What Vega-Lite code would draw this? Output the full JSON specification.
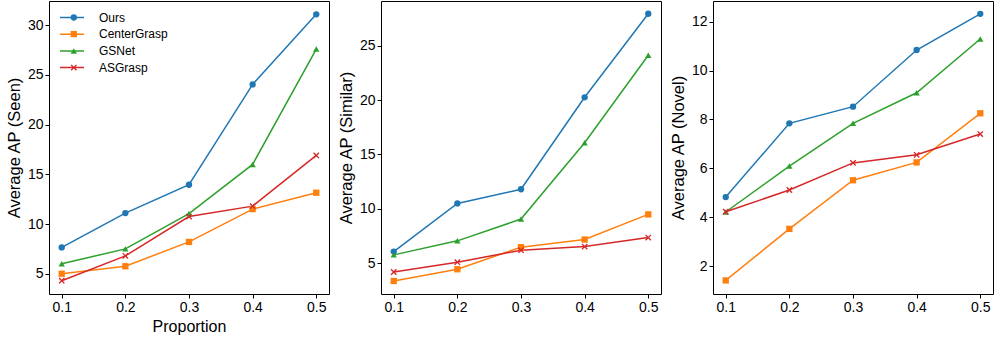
{
  "$schema": "https://vega.github.io/schema/vega-lite/v6.json",
  "autosize": {"type": "pad"},
  "padding": {"left": 5, "top": 0, "right": 4, "bottom": 0},
  "background": "white",
  "datasets": {
    "ap": [
      {"panel": "Seen", "p": 0.1, "method": "Ours", "value": 7.65},
      {"panel": "Seen", "p": 0.2, "method": "Ours", "value": 11.1},
      {"panel": "Seen", "p": 0.3, "method": "Ours", "value": 13.95},
      {"panel": "Seen", "p": 0.4, "method": "Ours", "value": 24.05},
      {"panel": "Seen", "p": 0.5, "method": "Ours", "value": 31.1},
      {"panel": "Seen", "p": 0.1, "method": "CenterGrasp", "value": 5.0},
      {"panel": "Seen", "p": 0.2, "method": "CenterGrasp", "value": 5.75},
      {"panel": "Seen", "p": 0.3, "method": "CenterGrasp", "value": 8.2},
      {"panel": "Seen", "p": 0.4, "method": "CenterGrasp", "value": 11.5},
      {"panel": "Seen", "p": 0.5, "method": "CenterGrasp", "value": 13.15},
      {"panel": "Seen", "p": 0.1, "method": "GSNet", "value": 6.0},
      {"panel": "Seen", "p": 0.2, "method": "GSNet", "value": 7.5},
      {"panel": "Seen", "p": 0.3, "method": "GSNet", "value": 11.05},
      {"panel": "Seen", "p": 0.4, "method": "GSNet", "value": 16.0},
      {"panel": "Seen", "p": 0.5, "method": "GSNet", "value": 27.6},
      {"panel": "Seen", "p": 0.1, "method": "ASGrasp", "value": 4.3},
      {"panel": "Seen", "p": 0.2, "method": "ASGrasp", "value": 6.8},
      {"panel": "Seen", "p": 0.3, "method": "ASGrasp", "value": 10.75},
      {"panel": "Seen", "p": 0.4, "method": "ASGrasp", "value": 11.8},
      {"panel": "Seen", "p": 0.5, "method": "ASGrasp", "value": 16.9},
      {"panel": "Similar", "p": 0.1, "method": "Ours", "value": 6.07},
      {"panel": "Similar", "p": 0.2, "method": "Ours", "value": 10.5},
      {"panel": "Similar", "p": 0.3, "method": "Ours", "value": 11.8},
      {"panel": "Similar", "p": 0.4, "method": "Ours", "value": 20.25},
      {"panel": "Similar", "p": 0.5, "method": "Ours", "value": 27.93},
      {"panel": "Similar", "p": 0.1, "method": "CenterGrasp", "value": 3.37},
      {"panel": "Similar", "p": 0.2, "method": "CenterGrasp", "value": 4.45},
      {"panel": "Similar", "p": 0.3, "method": "CenterGrasp", "value": 6.48},
      {"panel": "Similar", "p": 0.4, "method": "CenterGrasp", "value": 7.18},
      {"panel": "Similar", "p": 0.5, "method": "CenterGrasp", "value": 9.49},
      {"panel": "Similar", "p": 0.1, "method": "GSNet", "value": 5.77},
      {"panel": "Similar", "p": 0.2, "method": "GSNet", "value": 7.06},
      {"panel": "Similar", "p": 0.3, "method": "GSNet", "value": 9.06},
      {"panel": "Similar", "p": 0.4, "method": "GSNet", "value": 16.08},
      {"panel": "Similar", "p": 0.5, "method": "GSNet", "value": 24.11},
      {"panel": "Similar", "p": 0.1, "method": "ASGrasp", "value": 4.2},
      {"panel": "Similar", "p": 0.2, "method": "ASGrasp", "value": 5.1},
      {"panel": "Similar", "p": 0.3, "method": "ASGrasp", "value": 6.2},
      {"panel": "Similar", "p": 0.4, "method": "ASGrasp", "value": 6.53},
      {"panel": "Similar", "p": 0.5, "method": "ASGrasp", "value": 7.36},
      {"panel": "Novel", "p": 0.1, "method": "Ours", "value": 4.82},
      {"panel": "Novel", "p": 0.2, "method": "Ours", "value": 7.84},
      {"panel": "Novel", "p": 0.3, "method": "Ours", "value": 8.52},
      {"panel": "Novel", "p": 0.4, "method": "Ours", "value": 10.84},
      {"panel": "Novel", "p": 0.5, "method": "Ours", "value": 12.32},
      {"panel": "Novel", "p": 0.1, "method": "CenterGrasp", "value": 1.41},
      {"panel": "Novel", "p": 0.2, "method": "CenterGrasp", "value": 3.52},
      {"panel": "Novel", "p": 0.3, "method": "CenterGrasp", "value": 5.51},
      {"panel": "Novel", "p": 0.4, "method": "CenterGrasp", "value": 6.24},
      {"panel": "Novel", "p": 0.5, "method": "CenterGrasp", "value": 8.25},
      {"panel": "Novel", "p": 0.1, "method": "GSNet", "value": 4.21},
      {"panel": "Novel", "p": 0.2, "method": "GSNet", "value": 6.09},
      {"panel": "Novel", "p": 0.3, "method": "GSNet", "value": 7.84},
      {"panel": "Novel", "p": 0.4, "method": "GSNet", "value": 9.09},
      {"panel": "Novel", "p": 0.5, "method": "GSNet", "value": 11.29},
      {"panel": "Novel", "p": 0.1, "method": "ASGrasp", "value": 4.22},
      {"panel": "Novel", "p": 0.2, "method": "ASGrasp", "value": 5.11},
      {"panel": "Novel", "p": 0.3, "method": "ASGrasp", "value": 6.22},
      {"panel": "Novel", "p": 0.4, "method": "ASGrasp", "value": 6.55},
      {"panel": "Novel", "p": 0.5, "method": "ASGrasp", "value": 7.4}
    ]
  },
  "data": {"name": "ap"},
  "config": {
    "font": "Liberation Sans",
    "view": {"stroke": "#000000", "strokeWidth": 1},
    "axis": {
      "grid": false,
      "domain": false,
      "tickColor": "#000000",
      "tickSize": 4,
      "tickWidth": 1,
      "labelColor": "#000000",
      "labelFontSize": 14,
      "labelPadding": 2,
      "titleFontSize": 16.5,
      "titleFontWeight": "normal",
      "titleColor": "#000000",
      "titlePadding": 5
    },
    "legend": {
      "padding": 0
    }
  },
  "spacing": 52,
  "bounds": "flush",
  "resolve": {"legend": {"color": "independent", "shape": "independent", "stroke": "independent"}},
  "hconcat": [
    {
      "width": 280,
      "height": 293,
      "transform": [{"filter": "datum.panel === 'Seen'"}],
      "encoding": {
        "x": {"field": "p", "type": "quantitative", "title": "Proportion",
              "scale": {"domain": [0.08, 0.52], "nice": false, "zero": false},
              "axis": {"values": [0.1, 0.2, 0.3, 0.4, 0.5], "format": ".1f", "titleFontSize": 16, "titlePadding": 4}},
        "y": {"field": "value", "type": "quantitative", "title": "Average AP (Seen)",
              "scale": {"domain": [2.96, 32.44], "nice": false, "zero": false},
              "axis": {"values": [5, 10, 15, 20, 25, 30]}}
      },
      "layer": [
        {"mark": {"type": "line", "strokeWidth": 1.5},
         "encoding": {
           "stroke": {"field": "method", "type": "nominal",
                      "sort": ["Ours", "CenterGrasp", "GSNet", "ASGrasp"],
                      "scale": {"range": ["#1f77b4", "#ff7f0e", "#2ca02c", "#d62728"]},
                      "legend": {"orient": "none", "legendX": 10, "legendY": 9.5, "title": null, "labelFontSize": 12, "labelColor": "#000000",
                                 "symbolType": "stroke", "symbolSize": 576, "symbolStrokeWidth": 1.5, "clipHeight": 14,
                                 "labelOffset": 14, "rowPadding": 2.7}}
         }},
        {"mark": {"type": "point", "filled": true, "opacity": 1, "size": 40},
         "encoding": {
           "color": {"field": "method", "type": "nominal",
                     "scale": {"domain": ["Ours", "CenterGrasp", "GSNet", "ASGrasp"], "range": ["#1f77b4", "#ff7f0e", "#2ca02c", "#d62728"]},
                     "legend": {"orient": "none", "legendX": 18.8, "legendY": 9.5, "title": null, "labelFontSize": 12, "labelExpr": "''",
                                "symbolSize": 40, "clipHeight": 14, "labelOffset": 14, "rowPadding": 2.7, "symbolStrokeWidth": 0}},
           "shape": {"field": "method", "type": "nominal",
                     "scale": {"domain": ["Ours", "CenterGrasp", "GSNet", "ASGrasp"], "range": ["circle", "square", "triangle-up", "M-1,-0.7L-0.7,-1L0,-0.3L0.7,-1L1,-0.7L0.3,0L1,0.7L0.7,1L0,0.3L-0.7,1L-1,0.7L-0.3,0Z"]},
                     "legend": null}}}
      ]
    },
    {
      "width": 280,
      "height": 293,
      "transform": [{"filter": "datum.panel === 'Similar'"}],
      "encoding": {
        "x": {"field": "p", "type": "quantitative", "title": null,
              "scale": {"domain": [0.08, 0.52], "nice": false, "zero": false},
              "axis": {"values": [0.1, 0.2, 0.3, 0.4, 0.5], "format": ".1f"}},
        "y": {"field": "value", "type": "quantitative", "title": "Average AP (Similar)",
              "scale": {"domain": [2.175, 29.1], "nice": false, "zero": false},
              "axis": {"values": [5, 10, 15, 20, 25]}},
        "color": {"field": "method", "type": "nominal",
                  "scale": {"domain": ["Ours", "CenterGrasp", "GSNet", "ASGrasp"], "range": ["#1f77b4", "#ff7f0e", "#2ca02c", "#d62728"]},
                  "legend": null}
      },
      "layer": [
        {"mark": {"type": "line", "strokeWidth": 1.5}},
        {"mark": {"type": "point", "filled": true, "opacity": 1, "size": 40},
         "encoding": {"shape": {"field": "method", "type": "nominal",
                                "scale": {"domain": ["Ours", "CenterGrasp", "GSNet", "ASGrasp"], "range": ["circle", "square", "triangle-up", "M-1,-0.7L-0.7,-1L0,-0.3L0.7,-1L1,-0.7L0.3,0L1,0.7L0.7,1L0,0.3L-0.7,1L-1,0.7L-0.3,0Z"]},
                                "legend": null}}}
      ]
    },
    {
      "width": 280,
      "height": 293,
      "transform": [{"filter": "datum.panel === 'Novel'"}],
      "encoding": {
        "x": {"field": "p", "type": "quantitative", "title": null,
              "scale": {"domain": [0.08, 0.52], "nice": false, "zero": false},
              "axis": {"values": [0.1, 0.2, 0.3, 0.4, 0.5], "format": ".1f"}},
        "y": {"field": "value", "type": "quantitative", "title": "Average AP (Novel)",
              "scale": {"domain": [0.855, 12.845], "nice": false, "zero": false},
              "axis": {"values": [2, 4, 6, 8, 10, 12]}},
        "color": {"field": "method", "type": "nominal",
                  "scale": {"domain": ["Ours", "CenterGrasp", "GSNet", "ASGrasp"], "range": ["#1f77b4", "#ff7f0e", "#2ca02c", "#d62728"]},
                  "legend": null}
      },
      "layer": [
        {"mark": {"type": "line", "strokeWidth": 1.5}},
        {"mark": {"type": "point", "filled": true, "opacity": 1, "size": 40},
         "encoding": {"shape": {"field": "method", "type": "nominal",
                                "scale": {"domain": ["Ours", "CenterGrasp", "GSNet", "ASGrasp"], "range": ["circle", "square", "triangle-up", "M-1,-0.7L-0.7,-1L0,-0.3L0.7,-1L1,-0.7L0.3,0L1,0.7L0.7,1L0,0.3L-0.7,1L-1,0.7L-0.3,0Z"]},
                                "legend": null}}}
      ]
    }
  ]
}
